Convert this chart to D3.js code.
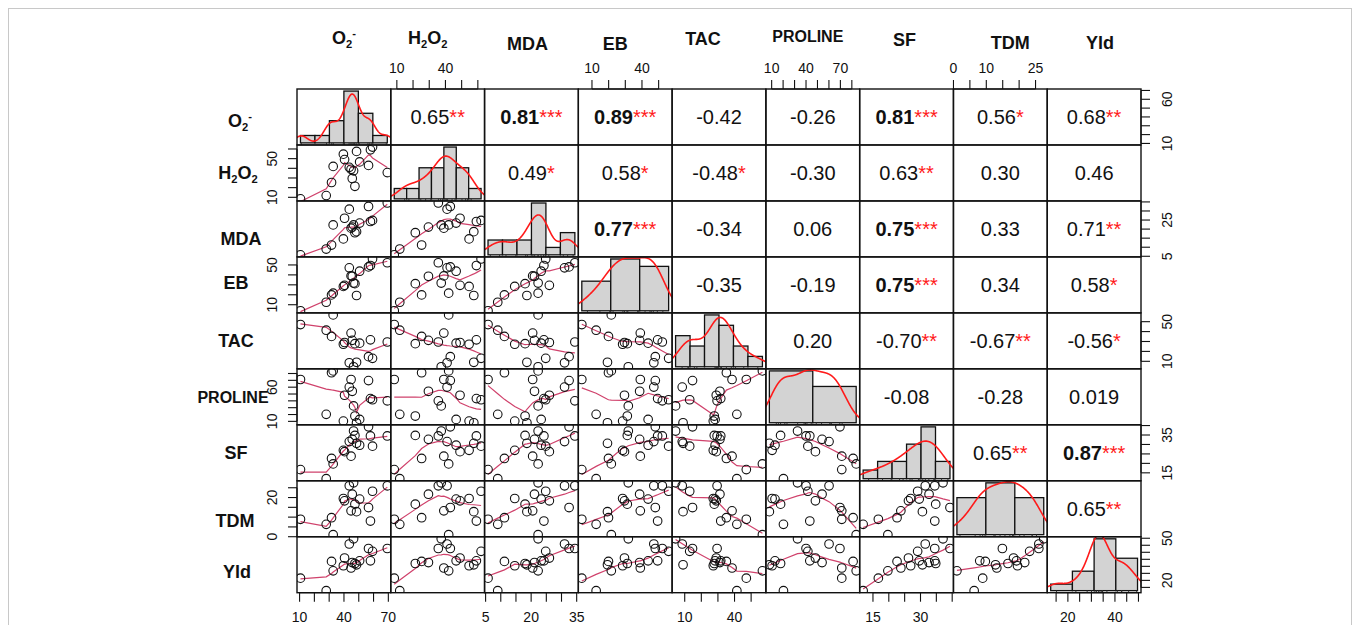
<!DOCTYPE html>
<html><head><meta charset="utf-8">
<script src="https://cdn.jsdelivr.net/npm/d3@7"></script>
<style>
body{margin:0;background:#fff;}
svg{display:block;font-family:"Liberation Sans",Arial,Helvetica,sans-serif;}
</style></head><body>
<svg id="chart" width="1360" height="625"></svg>
<script>
// ---- variables (one value per genotype, 17 genotypes) ----
const varNames = ["O2-","H2O2","MDA","EB","TAC","PROLINE","SF","TDM","Yld"];
const O2      = [10.6, 28.0, 31.6, 32.7, 40.4, 39.6, 43.6, 44.8, 45.6, 46.5, 47.4, 48.5, 50.6, 56.6, 57.9, 59.3, 69.3];
const H2O2    = [8.4, 11.8, 25.3, 42.0, 49.0, 54.6, 41.0, 39.0, 29.5, 37.4, 21.4, 57.5, 46.6, 43.0, 59.1, 62.0, 35.6];
const MDA     = [5.8, 9.0, 11.2, 22.3, 26.0, 14.6, 31.0, 20.5, 21.1, 22.3, 18.0, 18.6, 23.3, 32.5, 24.2, 24.8, 34.4];
const EB      = [3.9, 12.5, 19.9, 21.6, 29.5, 28.4, 47.1, 39.0, 38.6, 31.8, 31.2, 19.3, 43.7, 48.0, 49.4, 56.0, 52.2];
const TAC     = [47.1, 41.4, 35.1, 56.8, 29.0, 27.2, 8.5, 38.5, 31.2, 4.5, 27.8, 9.0, 28.3, 14.7, 31.7, 13.0, 29.5];
const PROLINE = [71.2, 20.3, 81.1, 83.8, 48.2, 10.4, 60.1, 71.2, 54.0, 32.6, 17.8, 8.0, 12.9, 69.6, 43.3, 41.6, 40.0];
const SF      = [16.7, 11.9, 22.6, 19.7, 26.2, 26.9, 31.5, 23.8, 32.7, 37.1, 34.8, 30.6, 29.6, 39.3, 34.5, 29.1, 34.5];
const TDM     = [8.9, 6.3, 9.7, 1.05, 18.3, 19.5, 26.0, 13.2, 21.7, 27.5, 16.6, 12.8, 19.2, 14.9, 8.0, 23.2, 26.0];
const Yld     = [21.6, 12.7, 33.5, 26.8, 35.9, 30.4, 45.9, 28.8, 32.7, 49.6, 32.0, 31.1, 33.9, 42.7, 33.9, 40.7, 42.7];
const series  = [O2, H2O2, MDA, EB, TAC, PROLINE, SF, TDM, Yld];

// ---- histogram break points for the diagonal ----
const histBreaks = [
  [10,20,30,40,50,60,70],
  [0,10,20,30,40,50,60,70],
  [5,10,15,20,25,30,35],
  [0,20,40,60],
  [0,10,20,30,40,50,60],
  [0,50,100],
  [10,15,20,25,30,35,40],
  [0,10,20,30],
  [10,20,30,40,50]
];

// ---- Pearson r printed in the upper panels, with significance stars ----
const corrText = [
  [null,"0.65","0.81","0.89","-0.42","-0.26","0.81","0.56","0.68"],
  [null,null,"0.49","0.58","-0.48","-0.30","0.63","0.30","0.46"],
  [null,null,null,"0.77","-0.34","0.06","0.75","0.33","0.71"],
  [null,null,null,null,"-0.35","-0.19","0.75","0.34","0.58"],
  [null,null,null,null,null,"0.20","-0.70","-0.67","-0.56"],
  [null,null,null,null,null,null,"-0.08","-0.28","0.019"],
  [null,null,null,null,null,null,null,"0.65","0.87"],
  [null,null,null,null,null,null,null,null,"0.65"]
];
const corrStars = [
  [null,"**","***","***","","","***","*","**"],
  [null,null,"*","*","*","","**","",""],
  [null,null,null,"***","","","***","","**"],
  [null,null,null,null,"","","***","","*"],
  [null,null,null,null,null,"","**","**","*"],
  [null,null,null,null,null,null,"","",""],
  [null,null,null,null,null,null,null,"**","***"],
  [null,null,null,null,null,null,null,null,"**"]
];

// ---- axis ticks and the tick labels that are printed ----
const axisTicks = [
  [10,20,30,40,50,60,70],
  [10,20,30,40,50,60],
  [5,10,15,20,25,30,35],
  [10,20,30,40,50],
  [10,20,30,40,50],
  [10,20,30,40,50,60,70,80],
  [15,20,25,30,35,40],
  [0,5,10,15,20,25],
  [15,20,25,30,35,40,45,50]
];
const xTickLabels = [[10,40,70],[10,40],[5,20,35],[10,40],[10,40],[10,40,70],[15,30],[0,10,25],[20,40]];
const yTickLabels = [[10,60],[10,50],[5,25],[10,50],[10,50],[10,60],[15,35],[0,20],[20,50]];

// ---- layout ----
const svg = d3.select("#chart");
const gx0 = 297, gx1 = 1141, gy0 = 89, gy1 = 592.7;
const nv = varNames.length;
const cw = (gx1 - gx0) / nv, ch = (gy1 - gy0) / nv;
const headerShift = [[0,44],[-10,44],[-4,50],[-10,50],[-16,45],[-5,42],[-2,46],[10,49],[6,49]];
const rowLabelPos = [[240,4],[238,0],[241,10],[236,-2],[236,0],[233,0],[236,0],[235,12],[237,7]];

svg.append("rect").attr("x",8.5).attr("y",8.5).attr("width",1343).attr("height",700)
  .attr("fill","none").attr("stroke","#c8c8c8").attr("stroke-width",1);

function padded(ext){ const w = ext[1]-ext[0]; return [ext[0]-0.04*w, ext[1]+0.04*w]; }
const xs = series.map((v,j)=>d3.scaleLinear().domain(padded(d3.extent(v))).range([gx0+j*cw, gx0+(j+1)*cw]));
const ys = series.map((v,i)=>d3.scaleLinear().domain(padded(d3.extent(v))).range([gy0+(i+1)*ch, gy0+i*ch]));

const defs = svg.append("defs");
for (let i=0;i<nv;i++) for (let j=0;j<nv;j++) {
  defs.append("clipPath").attr("id",`c${i}_${j}`).append("rect")
    .attr("x",gx0+j*cw).attr("y",gy0+i*ch).attr("width",cw).attr("height",ch);
}

// robust locally weighted regression (same algorithm as R's lowess)
function lowess(xIn, yIn, f=2/3, nsteps=3){
  const n = xIn.length;
  const ord = d3.range(n).sort((a,b)=>xIn[a]-xIn[b]);
  const x=[0], y=[0];
  ord.forEach(k=>{x.push(xIn[k]); y.push(yIn[k]);});
  const delta = 0.01*(x[n]-x[1]);
  const ysf = new Array(n+1).fill(0), rw = new Array(n+1).fill(1), res = new Array(n+1).fill(0), w = new Array(n+1).fill(0);
  const ns = Math.max(2, Math.min(n, Math.floor(f*n + 1e-7)));
  const cube = t=>t*t*t;
  function lowest(xsv, nleft, nright, userw){
    const range = x[n]-x[1];
    const h = Math.max(xsv - x[nleft], x[nright]-xsv);
    const h9 = 0.999*h, h1 = 0.001*h;
    let a = 0, j = nleft;
    while (j <= n) {
      w[j] = 0;
      const r = Math.abs(x[j]-xsv);
      if (r <= h9) {
        w[j] = r <= h1 ? 1 : cube(1 - cube(r/h));
        if (userw) w[j] *= rw[j];
        a += w[j];
      } else if (x[j] > xsv) break;
      j++;
    }
    const nrt = j-1;
    if (a <= 0) return null;
    for (j=nleft;j<=nrt;j++) w[j] /= a;
    if (h > 0) {
      a = 0;
      for (j=nleft;j<=nrt;j++) a += w[j]*x[j];
      let b = xsv - a, c = 0;
      for (j=nleft;j<=nrt;j++) c += w[j]*(x[j]-a)*(x[j]-a);
      if (Math.sqrt(c) > 0.001*range) {
        b /= c;
        for (j=nleft;j<=nrt;j++) w[j] *= (b*(x[j]-a)+1);
      }
    }
    let s = 0;
    for (j=nleft;j<=nrt;j++) s += w[j]*y[j];
    return s;
  }
  for (let iter=1; iter<=nsteps+1; iter++) {
    let nleft=1, nright=ns, last=0, i=1;
    for(;;){
      if (nright < n) {
        const d1 = x[i]-x[nleft], d2 = x[nright+1]-x[i];
        if (d1 > d2) { nleft++; nright++; continue; }
      }
      const v = lowest(x[i], nleft, nright, iter>1);
      ysf[i] = v === null ? y[i] : v;
      if (last < i-1) {
        const denom = x[i]-x[last];
        for (let j=last+1;j<i;j++){ const al=(x[j]-x[last])/denom; ysf[j]=al*ysf[i]+(1-al)*ysf[last]; }
      }
      last = i;
      const cut = x[last]+delta;
      for (i=last+1;i<=n;i++){
        if (x[i] > cut) break;
        if (x[i] === x[last]) { ysf[i] = ysf[last]; last = i; }
      }
      i = Math.max(last+1, i-1);
      if (last >= n) break;
    }
    for (let k=1;k<=n;k++) res[k] = y[k]-ysf[k];
    if (iter > nsteps) break;
    const ar = res.slice(1).map(Math.abs).sort((a,b)=>a-b);
    const m1 = Math.floor(n/2);
    const cmad = n%2===0 ? 3*(ar[m1]+ar[n-m1-1]) : 6*ar[m1];
    const sc = d3.mean(ar);
    if (cmad < 1e-7*sc) break;
    const c9 = 0.999*cmad, c1 = 0.001*cmad;
    for (let k=1;k<=n;k++){
      const r = Math.abs(res[k]);
      rw[k] = r <= c1 ? 1 : (r <= c9 ? Math.pow(1-Math.pow(r/cmad,2),2) : 0);
    }
  }
  return d3.range(1,n+1).map(k=>[x[k], ysf[k]]);
}

// gaussian kernel density with the nrd0 bandwidth rule
function kde(values){
  const n = values.length, s = values.slice().sort(d3.ascending);
  const sd = d3.deviation(values);
  const iqr = d3.quantile(s,0.75)-d3.quantile(s,0.25);
  let lo = Math.min(sd, iqr/1.34);
  if (!(lo > 0)) lo = sd || 1;
  const bw = 0.9*lo*Math.pow(n,-0.2);
  const from = s[0]-3*bw, to = s[n-1]+3*bw;
  return d3.range(512).map(k=>{
    const xv = from+(to-from)*k/511;
    let acc = 0;
    for (const v of values){ const u=(xv-v)/bw; acc += Math.exp(-0.5*u*u); }
    return [xv, acc/(n*bw*Math.sqrt(2*Math.PI))];
  });
}

const lineGen = d3.line();

for (let i=0;i<nv;i++) for (let j=0;j<nv;j++) {
  const cx0 = gx0+j*cw, cy0 = gy0+i*ch;
  const g = svg.append("g").attr("clip-path",`url(#c${i}_${j})`);
  if (i > j) {
    // scatter with smoother
    const xv = series[j], yv = series[i];
    const fit = lowess(xv, yv);
    g.append("path").attr("d", lineGen(fit.map(p=>[xs[j](p[0]), ys[i](p[1])])))
      .attr("fill","none").attr("stroke","#d0426c").attr("stroke-width",1.2);
    g.selectAll("circle").data(xv.map((v,k)=>[v,yv[k]])).join("circle")
      .attr("cx",d=>xs[j](d[0])).attr("cy",d=>ys[i](d[1])).attr("r",4.3)
      .attr("fill","none").attr("stroke","#111").attr("stroke-width",1.1);
  } else if (i === j) {
    // histogram + density + rug
    const v = series[i], br = histBreaks[i], n = v.length;
    const counts = br.slice(1).map(()=>0);
    v.forEach(val=>{
      let k = br.findIndex((b,q)=>q>0 && val <= b);
      if (k < 1) k = 1;
      counts[k-1]++;
    });
    const dens = counts.map((c,k)=>c/(n*(br[k+1]-br[k])));
    const hx = d3.scaleLinear().domain(padded([br[0], br[br.length-1]])).range([cx0, cx0+cw]);
    const hy = d3.scaleLinear().domain(padded([0, d3.max(dens)])).range([cy0+ch, cy0]);
    g.selectAll("rect.bar").data(dens).join("rect").attr("class","bar")
      .attr("x",(d,k)=>hx(br[k])).attr("width",(d,k)=>hx(br[k+1])-hx(br[k]))
      .attr("y",d=>hy(d)).attr("height",d=>hy(0)-hy(d))
      .attr("fill","#d3d3d3").attr("stroke","#111").attr("stroke-width",1.3);
    g.append("path").attr("d", lineGen(kde(v).map(p=>[hx(p[0]), hy(p[1])])))
      .attr("fill","none").attr("stroke","#ff1a1a").attr("stroke-width",1.6);
    g.selectAll("line.rug").data(v).join("line").attr("class","rug")
      .attr("x1",d=>hx(d)).attr("x2",d=>hx(d)).attr("y1",cy0+ch).attr("y2",cy0+ch-2.2)
      .attr("stroke","#333").attr("stroke-width",1);
  } else {
    const txt = corrText[i][j], st = corrStars[i][j];
    const t = svg.append("text").attr("x",cx0+cw/2).attr("y",cy0+ch/2+7)
      .attr("text-anchor","middle").attr("font-size",20)
      .attr("font-weight", st==="***" ? "bold" : "normal").attr("fill","#111");
    t.append("tspan").text(txt);
    if (st) t.append("tspan").attr("fill","#ff1a1a").attr("font-weight","normal").text(st);
  }
}

// cell frames
for (let i=0;i<nv;i++) for (let j=0;j<nv;j++) {
  svg.append("rect").attr("x",gx0+j*cw).attr("y",gy0+i*ch).attr("width",cw).attr("height",ch)
    .attr("fill","none").attr("stroke","#111").attr("stroke-width",1.4);
}

// axes alternate around the matrix
const tickLen = 9, tickFont = 14;
for (let k=0;k<nv;k++) {
  const xSc = xs[k], ySc = ys[k];
  const xdom = xSc.domain(), ydom = ySc.domain();
  const tk = axisTicks[k].filter(t=>t>=xdom[0] && t<=xdom[1]);
  const horizontal = k%2===1 ? "top" : "bottom";
  const ag = svg.append("g").attr("stroke","#111").attr("stroke-width",1.1);
  const y0 = horizontal==="top" ? gy0 : gy1;
  const sgn = horizontal==="top" ? -1 : 1;
  ag.append("line").attr("x1",xSc(tk[0])).attr("x2",xSc(tk[tk.length-1])).attr("y1",y0).attr("y2",y0);
  tk.forEach(t=>ag.append("line").attr("x1",xSc(t)).attr("x2",xSc(t)).attr("y1",y0).attr("y2",y0+sgn*tickLen));
  xTickLabels[k].forEach(t=>{
    svg.append("text").attr("x",xSc(t)).attr("y", horizontal==="top" ? 73 : 622)
      .attr("text-anchor","middle").attr("font-size",tickFont).attr("fill","#111").text(t);
  });
  const vt = axisTicks[k].filter(t=>t>=ydom[0] && t<=ydom[1]);
  const side = k%2===1 ? "left" : "right";
  const x0 = side==="left" ? gx0 : gx1;
  const s2 = side==="left" ? -1 : 1;
  const vg = svg.append("g").attr("stroke","#111").attr("stroke-width",1.1);
  vg.append("line").attr("x1",x0).attr("x2",x0).attr("y1",ySc(vt[0])).attr("y2",ySc(vt[vt.length-1]));
  vt.forEach(t=>vg.append("line").attr("x1",x0).attr("x2",x0+s2*tickLen).attr("y1",ySc(t)).attr("y2",ySc(t)));
  yTickLabels[k].forEach(t=>{
    const lx = side==="left" ? 272 : 1167;
    svg.append("text").attr("transform",`translate(${lx},${ySc(t)}) rotate(-90)`)
      .attr("text-anchor","middle").attr("dy","0.35em").attr("font-size",tickFont).attr("fill","#111").text(t);
  });
}

// variable names with chemical sub/superscripts
const labelParts = {
  "O2-": [["O",0],["2",1],["-",2]],
  "H2O2": [["H",0],["2",1],["O",0],["2",1]]
};
function writeLabel(sel, name, size){
  const parts = labelParts[name] || [[name,0]];
  let cur = 0;
  parts.forEach(([t,kind])=>{
    const target = kind===1 ? size*0.2 : kind===2 ? -size*0.38 : 0;
    const ts = sel.append("tspan").attr("dy", target-cur).text(t);
    if (kind) ts.attr("font-size", size*0.62);
    cur = target;
  });
}
varNames.forEach((name,k)=>{
  const fs = name==="PROLINE" ? 16 : 18;
  const h = svg.append("text").attr("x",gx0+(k+0.5)*cw+headerShift[k][0]).attr("y",headerShift[k][1])
    .attr("text-anchor","middle").attr("font-weight","bold").attr("font-size",fs).attr("fill","#111");
  writeLabel(h, name, fs);
  const r = svg.append("text").attr("x",rowLabelPos[k][0]).attr("y",gy0+(k+0.5)*ch+6+rowLabelPos[k][1])
    .attr("text-anchor","middle").attr("font-weight","bold").attr("font-size",fs).attr("fill","#111");
  writeLabel(r, name, fs);
});
</script>
</body></html>
